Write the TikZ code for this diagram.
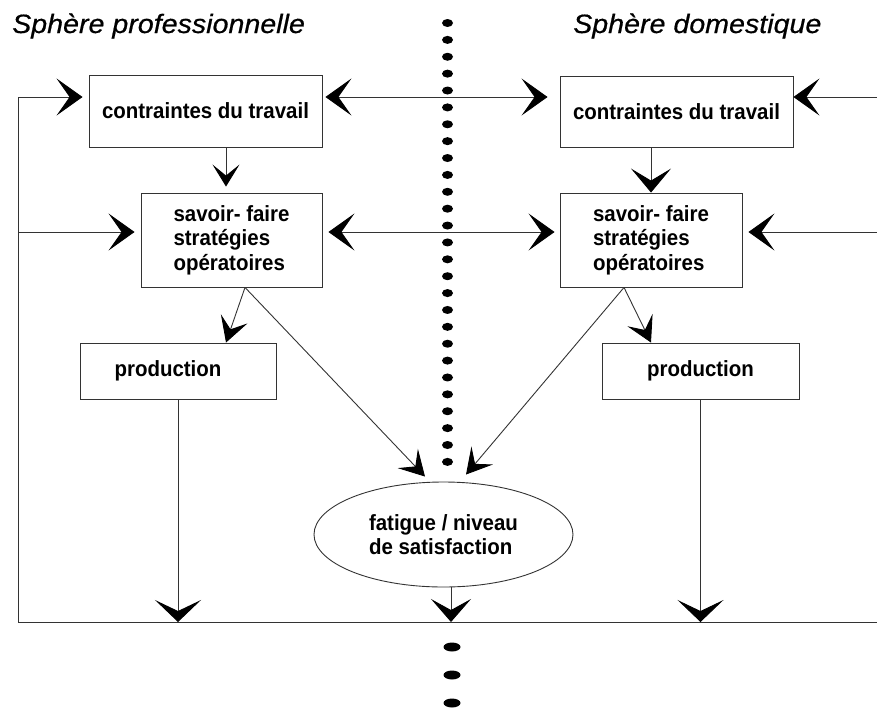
\documentclass[tikz,border=0pt]{standalone}
\usepackage{fontspec}
\setmainfont{Liberation Sans}
\newfontfamily\bxfont{Liberation Sans}[FakeStretch=0.93]
\newfontfamily\ttlfont{Liberation Sans}[FakeStretch=1.08,FakeBold=0.6]
\usetikzlibrary{arrows.meta,shapes.geometric}
\tikzset{
  ChevH/.tip={Stealth[length=26pt,width=37pt,inset=13pt,color=black]},
  ChevV/.tip={Stealth[length=22pt,width=27pt,inset=11pt,color=black]},
  ChevW/.tip={Stealth[length=24pt,width=40pt,inset=12pt,color=black]},
  ChevS/.tip={Stealth[length=25pt,width=28pt,inset=11pt,color=black]},
  ChevB/.tip={Stealth[length=22pt,width=46pt,inset=11pt,color=black]},
  ChevE/.tip={Stealth[length=23pt,width=40pt,inset=11pt,color=black]},
  ln/.style={line width=0.9pt, draw=black!80},
  box/.style={ln, rectangle, inner sep=0pt, text=black, align=left,
    font=\bxfont\bfseries\fontsize{22}{24.5}\selectfont},
  ttl/.style={anchor=base west, inner sep=0pt, text=black,
    font=\ttlfont\itshape\fontsize{26.5}{30}\selectfont},
}
\begin{document}
\begin{tikzpicture}[x=1pt,y=-1pt]
\useasboundingbox (0,0) rectangle (877,707);

% titles
\node[ttl] (t1) at (12,33) {Sphère professionnelle};
\node[ttl] (t2) at (573,33) {Sphère domestique};

% boxes
\node[box, minimum width=233pt, minimum height=72pt] (lb1) at (205.5,111) {contraintes du travail};
\node[box, minimum width=233pt, minimum height=71pt] (rb1) at (676.5,111.5) {contraintes du travail};
\node[box, minimum width=181pt, minimum height=94pt] (lb2) at (231.5,240) {savoir- faire\\stratégies\\opératoires};
\node[box, minimum width=182pt, minimum height=94pt] (rb2) at (651,240) {savoir- faire\\stratégies\\opératoires};
\node[box, minimum width=196pt, minimum height=56pt] (lp) at (178,371) {production\hspace*{20pt}};
\node[box, minimum width=197pt, minimum height=56pt] (rp) at (700.5,371) {production};
\node[box, ellipse, minimum width=259pt, minimum height=105pt] (ell) at (443.5,534.5) {fatigue / niveau\\de satisfaction};

% frame coordinates
\coordinate (fT) at (18,97);
\coordinate (fM) at (18,232);
\coordinate (fB) at (18,622);
\coordinate (bR) at (877,622);
\coordinate (eT) at (877,97);
\coordinate (eM) at (877,232);

% frame
\draw[ln] (fT) -- (fB) -- (bR);
\draw[ln, -ChevH, shorten >=6pt] (fT) -- (lb1.west |- fT);
\draw[ln, -ChevH, shorten >=6pt] (fM) -- (lb2.west |- fM);
\draw[ln, ChevH-ChevH, shorten <=3pt, shorten >=12pt] (lb1.east |- fT) -- (rb1.west |- fT);
\draw[ln, ChevH-ChevH, shorten <=6pt, shorten >=5pt] (lb2.east |- fM) -- (rb2.west |- fM);
\draw[ln, -ChevH] (eT) -- (rb1.east |- eT);
\draw[ln, -ChevH, shorten >=6pt] (eM) -- (rb2.east |- eM);

% vertical links
\draw[ln, -ChevV, shorten >=6pt] ([xshift=20.5pt]lb1.south) -- ([xshift=-5.5pt]lb2.north);
\draw[ln, -ChevW] ([xshift=-25.5pt]rb1.south) -- (rb2.north);

% diagonals
\draw[ln, -ChevS] ([xshift=13.5pt]lb2.south) -- ([xshift=48pt]lp.north);
\draw[ln, -ChevS] ([xshift=13.5pt]lb2.south) -- ([xshift=-18.5pt,yshift=5pt]ell.north);
\draw[ln, -ChevS] ([xshift=-27pt]rb2.south) -- ([xshift=22.5pt,yshift=7pt]ell.north);
\draw[ln, -ChevS] ([xshift=-27pt]rb2.south) -- ([xshift=-49.5pt]rp.north);

% down arrows
\draw[ln, -ChevB] (lp.south) -- (lp.south |- fB);
\draw[ln, -ChevB] (rp.south) -- (rp.south |- fB);
\draw[ln, -ChevE] ([xshift=7.5pt]ell.south) -- ([xshift=7.5pt]ell.south |- fB);

% dotted separator
\foreach \k in {0,...,26}
  \fill[black] (447.5,{23+16.88*\k}) ellipse [x radius=5.5pt, y radius=4pt];
\foreach \yy in {647,675,703}
  \fill[black] (452,\yy) ellipse [x radius=8.5pt, y radius=4.5pt];
\end{tikzpicture}
\end{document}
